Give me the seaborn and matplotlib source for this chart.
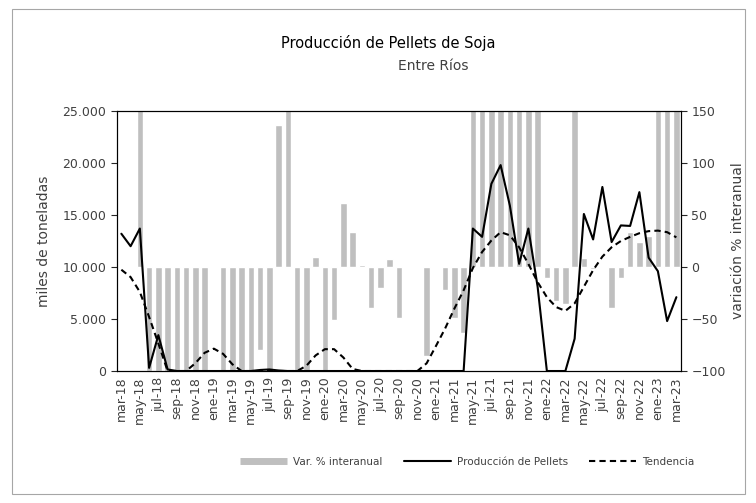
import numpy as np
import pandas as pd
import seaborn as sns
import matplotlib.pyplot as plt
from matplotlib.lines import Line2D
from matplotlib.patches import Rectangle
from matplotlib.ticker import FuncFormatter

# meses mar-18 .. mar-23
meses = ['ene', 'feb', 'mar', 'abr', 'may', 'jun', 'jul', 'ago', 'sep', 'oct', 'nov', 'dic']
periodos = [f"{meses[(2 + k) % 12]}-{18 + (2 + k) // 12}" for k in range(61)]

# produccion mensual (toneladas)
produccion = [13200, 12000, 13700, 300, 3450, 150, 0, 0, 0, 0,
              0, 0, 0, 0, 0, 100, 150, 50, 0, 0,
              0, 0, 0, 0, 0, 0, 0, 0, 0, 0,
              0, 0, 0, 0, 0, 0, 0, 0, 13700, 12900,
              18000, 19800, 15900, 10300, 13700, 8100, 0, 0, 0, 3100,
              15100, 12650, 17700, 12400, 14000, 13950, 17200, 10900, 9600, 4800,
              7100]

# tendencia
tendencia = [9740, 9030, 7600, 5200, 2650, 0, 0, 0, 750, 1750,
             2150, 1650, 650, 0, 0, 0, 0, 0, 0, 0,
             500, 1500, 2100, 2100, 1300, 200, 0, 0, 0, 0,
             0, 0, 0, 740, 2390, 4090, 6000, 7760, 9900, 11450,
             12550, 13350, 13050, 11900, 10300, 8550, 7100, 6150, 5780, 6500,
             8100, 9700, 11000, 11900, 12500, 12900, 13250, 13450, 13500, 13350,
             12850]

# variacion % interanual (valores > 150 quedan cortados)
variacion = [np.nan, np.nan, 250, -100, -100, -100, -100, -100, -100, -100,
             np.nan, -100, -100, -100, -100, -80, -100, 137, 250, -100,
             -100, 10, -100, -51, 62, 34, 2, -39, -20, 8,
             -49, np.nan, np.nan, -86, np.nan, -22, -49, -63, 250, 250,
             250, 250, 250, 250, 250, 250, -11, -33, -36, 250,
             9, -2, np.nan, -39, -11, 34, 24, 30, 250, 250,
             250]

df = pd.DataFrame({'periodo': periodos, 'pos': np.arange(61),
                   'produccion': produccion, 'tendencia': tendencia,
                   'variacion': variacion})

sns.set_style('white')
plt.rcParams['font.family'] = ['DejaVu Sans']
txt = '#404040'

fig = plt.figure(figsize=(7.56, 5.03), dpi=100)
ax = fig.add_axes([0.1544, 0.2624, 0.7464, 0.5169])
ax2 = ax.twinx()

sns.barplot(data=df.dropna(), x='pos', y='variacion', ax=ax2, color='#BFBFBF',
            saturation=1, width=0.7, native_scale=True, errorbar=None)
sns.lineplot(data=df, x='pos', y='produccion', ax=ax, color='black', lw=1.5)
sns.lineplot(data=df, x='pos', y='tendencia', ax=ax, color='black', lw=1.5,
             linestyle=(0, (3, 2)))

ax.set_zorder(ax2.get_zorder() + 1)
ax.patch.set_visible(False)

ax.set_xlim(-0.5, 60.5)
ax.set_ylim(0, 25000)
ax2.set_ylim(-100, 150)
ax.set_yticks(np.arange(0, 25001, 5000))
ax2.set_yticks(np.arange(-100, 151, 50))
ax.yaxis.set_major_formatter(FuncFormatter(lambda v, p: f"{v:,.0f}".replace(',', '.')))

ax.set_xticks(np.arange(0, 61, 2))
ax.set_xticklabels(periodos[::2], rotation=90)
ax.set_xticks(np.arange(-0.5, 61, 2), minor=True)
ax.tick_params(axis='x', which='major', length=0, pad=4, labelsize=9, labelcolor=txt)
ax.tick_params(axis='x', which='minor', length=4, width=0.8, color='black', direction='out')
ax.tick_params(axis='y', length=4, width=0.8, direction='out', labelsize=9, labelcolor=txt)
ax2.tick_params(axis='y', length=4, width=0.8, direction='out', labelsize=9, labelcolor=txt)

ax.set_xlabel('')
ax2.set_xlabel('')
ax.set_ylabel('miles de toneladas', fontsize=10, color=txt, labelpad=8)
ax2.set_ylabel('variación % interanual', fontsize=10, color=txt, labelpad=4)

for a in (ax, ax2):
    for s in a.spines.values():
        s.set_color('black')
        s.set_linewidth(0.8)

fig.text(0.513, 1 - 43 / 503, 'Producción de Pellets de Soja', ha='center', va='center',
         fontsize=10.5, color='black')
fig.text(0.573, 1 - 66 / 503, 'Entre Ríos', ha='center', va='center',
         fontsize=10, color=txt)

handles = [Line2D([0], [0], color='#BFBFBF', lw=5, solid_capstyle='butt'),
           Line2D([0], [0], color='black', lw=1.5),
           Line2D([0], [0], color='black', lw=1.5, linestyle=(0, (3, 2)))]
labels = ['Var. % interanual', 'Producción de Pellets', 'Tendencia']
fig.legend(handles, labels, loc='center', bbox_to_anchor=(0.618, 1 - 462 / 503), ncol=3,
           frameon=False, fontsize=7.5, handlelength=4.5, handletextpad=0.6,
           columnspacing=2, labelcolor=txt)

fig.patches.append(Rectangle((12 / 756, 9 / 503), 733 / 756, 485 / 503,
                             transform=fig.transFigure, fill=False,
                             edgecolor='#A6A6A6', lw=0.8))

fig.savefig('out.png', dpi=100)
